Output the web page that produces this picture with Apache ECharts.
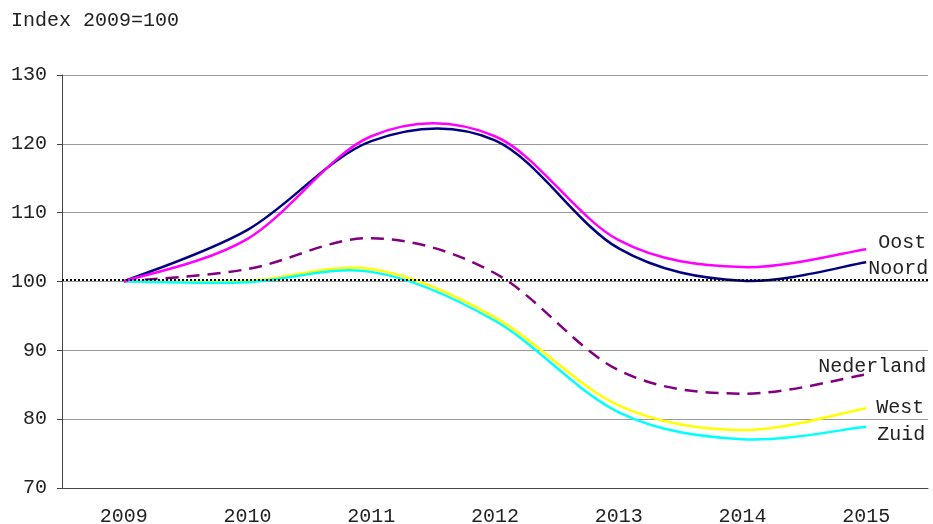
<!DOCTYPE html>
<html>
<head>
<meta charset="utf-8">
<script src="https://cdn.jsdelivr.net/npm/echarts@6/dist/echarts.min.js"></script>
<style>
html, body { margin: 0; padding: 0; background: #fff; }
#chart { width: 933px; height: 524px; }
</style>
</head>
<body>
<div id="chart"></div>
<script>
// jaren op de as
var years = ['2009', '2010', '2011', '2012', '2013', '2014', '2015'];

// index per regio, 2009 = 100
var oost      = [100, 106.2, 121.1, 121.1, 106.0, 102.1, 104.7];
var noord     = [100, 107.5, 120.4, 120.5, 104.8, 100.1, 102.8];
var nederland = [100, 101.8, 106.3, 101.2, 87.1, 83.7, 86.5];
var west      = [100, 100.1, 101.8, 94.8, 82.0, 78.4, 81.6];
var zuid      = [100, 99.9, 101.4, 94.3, 81.0, 77.1, 78.9];

var yTicks = [70, 80, 90, 100, 110, 120, 130];
var baseLine = 100.2;

var FONT = 'Liberation Mono';

// vloeiende lijn zoals in Excel (catmull-rom), getekend via de assen van echarts
function lijn(name, vals, color, dashed, offset) {
	return {
		name: name,
		type: 'custom',
		data: vals,
		clip: false,
		renderItem: function(params, api) {
			if (params.dataIndexInside !== 0) {
				return null;
			}
			var n = vals.length;
			var pts = [];
			for (var i = 0; i < n; i++) {
				pts.push(api.coord([i, api.value(1, i)]));
			}
			var d = 'M' + pts[0][0] + ' ' + pts[0][1];
			for (var i = 0; i < n - 1; i++) {
				var p0 = pts[i > 0 ? i - 1 : i];
				var p1 = pts[i];
				var p2 = pts[i + 1];
				var p3 = pts[i + 2 < n ? i + 2 : i + 1];
				var c1x = p1[0] + (p2[0] - p0[0]) / 6;
				var c1y = p1[1] + (p2[1] - p0[1]) / 6;
				var c2x = p2[0] - (p3[0] - p1[0]) / 6;
				var c2y = p2[1] - (p3[1] - p1[1]) / 6;
				d += ' C' + c1x + ' ' + c1y + ' ' + c2x + ' ' + c2y + ' ' + p2[0] + ' ' + p2[1];
			}
			var last = pts[n - 1];
			return {
				type: 'group',
				children: [
					{
						type: 'path',
						shape: { pathData: d },
						style: {
							fill: null,
							stroke: color,
							lineWidth: 2.5,
							lineDash: dashed ? [13, 8] : null
						}
					},
					{
						type: 'text',
						x: last[0] + offset[0],
						y: last[1] + offset[1],
						style: {
							text: name,
							fill: '#222',
							font: '20px "' + FONT + '"',
							align: 'left',
							verticalAlign: 'middle'
						}
					}
				]
			};
		},
		z: 3
	};
}

var chart = echarts.init(document.getElementById('chart'));

var option = {
	animation: false,
	title: {
		text: 'Index 2009=100',
		left: 6,
		top: 6,
		textStyle: { fontFamily: FONT, fontSize: 20, fontWeight: 'normal', color: '#222' }
	},
	grid: { left: 62, right: 5, top: 75, bottom: 36, outerBoundsMode: 'none', containLabel: false },
	xAxis: {
		type: 'category',
		data: years,
		boundaryGap: true,
		axisLine: { lineStyle: { color: '#444', width: 1 } },
		axisTick: { length: 5, lineStyle: { color: '#444' } },
		axisLabel: { fontFamily: FONT, fontSize: 20, color: '#222', margin: 19 },
		splitLine: { show: false }
	},
	yAxis: {
		type: 'value',
		min: yTicks[0],
		max: yTicks[yTicks.length - 1],
		interval: 10,
		axisLine: { show: true, onZero: false, lineStyle: { color: '#444', width: 1 } },
		axisTick: { show: true, length: 5, lineStyle: { color: '#444' } },
		axisLabel: { fontFamily: FONT, fontSize: 20, color: '#222', margin: 15 },
		splitLine: { lineStyle: { color: '#999', width: 1 } }
	},
	series: [
		{
			name: 'basis',
			type: 'line',
			data: [],
			markLine: {
				silent: true,
				symbol: 'none',
				label: { show: false },
				lineStyle: { color: '#000', width: 2, type: [2, 2] },
				data: [{ yAxis: baseLine }]
			},
			z: 2
		},
		lijn('Nederland', nederland, '#800080', true, [-48, -8]),
		lijn('West', west, '#FFFF00', false, [10, 0]),
		lijn('Zuid', zuid, '#00FFFF', false, [11, 8]),
		lijn('Noord', noord, '#000080', false, [2, 6]),
		lijn('Oost', oost, '#FF00FF', false, [12, -6])
	]
};

chart.setOption(option);
</script>
</body>
</html>
